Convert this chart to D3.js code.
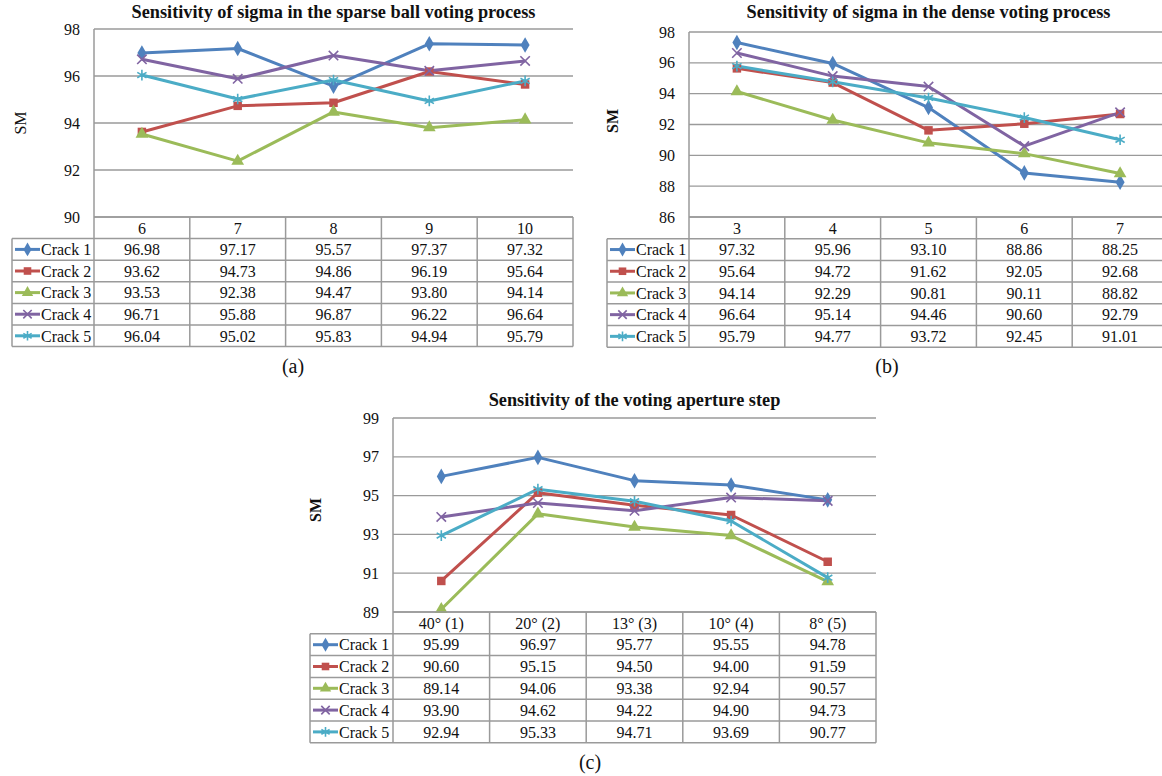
<!DOCTYPE html>
<html><head><meta charset="utf-8">
<script src="https://cdn.jsdelivr.net/npm/d3@7"></script>
<style>
html,body{margin:0;padding:0;background:#fff;}
svg{display:block;}
</style></head>
<body><svg id="chart" width="1162" height="776"></svg>
<script>
// ---------- data ----------
const seriesNames = ["Crack 1", "Crack 2", "Crack 3", "Crack 4", "Crack 5"];
const seriesColors = ["#4F81BD", "#C0504D", "#9BBB59", "#8064A2", "#4BACC6"];

const sparseCats = ["6", "7", "8", "9", "10"];
const sparseValues = [
  [96.98, 97.17, 95.57, 97.37, 97.32],
  [93.62, 94.73, 94.86, 96.19, 95.64],
  [93.53, 92.38, 94.47, 93.80, 94.14],
  [96.71, 95.88, 96.87, 96.22, 96.64],
  [96.04, 95.02, 95.83, 94.94, 95.79]
];
const sparseTicks = [90, 92, 94, 96, 98];

const denseCats = ["3", "4", "5", "6", "7"];
const denseValues = [
  [97.32, 95.96, 93.10, 88.86, 88.25],
  [95.64, 94.72, 91.62, 92.05, 92.68],
  [94.14, 92.29, 90.81, 90.11, 88.82],
  [96.64, 95.14, 94.46, 90.60, 92.79],
  [95.79, 94.77, 93.72, 92.45, 91.01]
];
const denseTicks = [86, 88, 90, 92, 94, 96, 98];

const apertureCats = ["40° (1)", "20° (2)", "13° (3)", "10° (4)", "8° (5)"];
const apertureValues = [
  [95.99, 96.97, 95.77, 95.55, 94.78],
  [90.60, 95.15, 94.50, 94.00, 91.59],
  [89.14, 94.06, 93.38, 92.94, 90.57],
  [93.90, 94.62, 94.22, 94.90, 94.73],
  [92.94, 95.33, 94.71, 93.69, 90.77]
];
const apertureTicks = [89, 91, 93, 95, 97, 99];

// ---------- drawing ----------
const FONT = "'Liberation Serif', 'Times New Roman', Tinos, serif";
const svg = d3.select("#chart");
const gridColor = "#9a9a9a";
const symbolTypes = [d3.symbolDiamond, d3.symbolSquare, d3.symbolTriangle, d3.symbolTimes, d3.symbolAsterisk];
const symbolSizes = [70, 72, 70, 60, 80];
const symbolFilled = [true, true, true, false, false];

function txt(g) {
  return g.append("text").attr("font-family", FONT).attr("fill", "#111");
}

function marker(g, i, x, y, scale) {
  const sym = d3.symbol().type(symbolTypes[i]).size(symbolSizes[i] * scale);
  const p = g.append("path").attr("d", sym()).attr("transform", `translate(${x},${y})`);
  if (symbolFilled[i]) p.attr("fill", seriesColors[i]).attr("stroke", "none");
  else p.attr("fill", "none").attr("stroke", seriesColors[i]).attr("stroke-width", 1.6);
}

function drawPanel(cfg) {
  const g = svg.append("g");
  const right = cfg.left + cfg.colW * cfg.cats.length;
  const x = d3.scaleBand().domain(cfg.cats).range([cfg.left, right]).padding(0);
  const y = d3.scaleLinear().domain([cfg.ticks[0], cfg.ticks[cfg.ticks.length - 1]]).range([cfg.bottom, cfg.top]);
  const cx = c => x(c) + x.bandwidth() / 2;

  g.selectAll(".grid").data(cfg.ticks).join("line")
    .attr("x1", cfg.left).attr("x2", right)
    .attr("y1", d => y(d)).attr("y2", d => y(d))
    .attr("stroke", gridColor).attr("stroke-width", 1.3);
  g.append("line").attr("x1", cfg.left).attr("x2", cfg.left)
    .attr("y1", cfg.top).attr("y2", cfg.bottom)
    .attr("stroke", gridColor).attr("stroke-width", 1.5);
  cfg.ticks.forEach(d => {
    txt(g).attr("x", cfg.left - 14).attr("y", y(d)).attr("dy", "0.35em")
      .attr("text-anchor", "end").attr("font-size", 16).text(d);
  });
  txt(g).attr("x", (cfg.left + right) / 2).attr("y", cfg.titleY)
    .attr("text-anchor", "middle").attr("font-size", 18.3).attr("font-weight", "bold").text(cfg.title);
  txt(g).attr("transform", `translate(${cfg.smX},${cfg.smY}) rotate(-90)`)
    .attr("text-anchor", "middle").attr("dy", "0.35em").attr("font-size", 16)
    .attr("font-weight", cfg.smBold ? "bold" : "normal").text("SM");

  const line = d3.line().x((d, j) => cx(cfg.cats[j])).y(d => y(d));
  cfg.values.forEach((vals, i) => {
    g.append("path").attr("d", line(vals)).attr("fill", "none")
      .attr("stroke", seriesColors[i]).attr("stroke-width", 3).attr("stroke-linejoin", "round");
  });
  cfg.values.forEach((vals, i) => {
    vals.forEach((v, j) => marker(g, i, cx(cfg.cats[j]), y(v), 1));
  });

  const rowH = cfg.rowH;
  const t = g.append("g");
  const nRows = seriesNames.length;
  const tableBottom = cfg.bottom + rowH * (nRows + 1);
  cfg.cats.forEach(c => {
    txt(t).attr("x", cx(c)).attr("y", cfg.bottom + rowH / 2).attr("dy", "0.36em")
      .attr("text-anchor", "middle").attr("font-size", 16).text(c);
  });
  seriesNames.forEach((s, i) => {
    const ry = cfg.bottom + rowH * (i + 1);
    const my = ry + rowH / 2;
    t.append("line").attr("x1", cfg.tableLeft + 3).attr("x2", cfg.tableLeft + 28)
      .attr("y1", my).attr("y2", my).attr("stroke", seriesColors[i]).attr("stroke-width", 3);
    marker(t, i, cfg.tableLeft + 15.5, my, 0.8);
    txt(t).attr("x", cfg.tableLeft + 29).attr("y", my).attr("dy", "0.36em")
      .attr("font-size", 16).text(s);
    cfg.values[i].forEach((v, j) => {
      txt(t).attr("x", cx(cfg.cats[j])).attr("y", my).attr("dy", "0.36em")
        .attr("text-anchor", "middle").attr("font-size", 16).text(v.toFixed(2));
    });
  });
  const hl = [];
  hl.push([cfg.left, right, cfg.bottom]);
  for (let r = 1; r <= nRows + 1; r++) hl.push([cfg.tableLeft, right, cfg.bottom + rowH * r]);
  hl.forEach(h => t.append("line").attr("x1", h[0]).attr("x2", h[1]).attr("y1", h[2]).attr("y2", h[2])
    .attr("stroke", gridColor).attr("stroke-width", 1.5));
  const vl = [[cfg.tableLeft, cfg.bottom + rowH]];
  for (let k = 0; k <= cfg.cats.length; k++) vl.push([cfg.left + cfg.colW * k, cfg.bottom]);
  vl.forEach(v => t.append("line").attr("x1", v[0]).attr("x2", v[0]).attr("y1", v[1]).attr("y2", tableBottom)
    .attr("stroke", gridColor).attr("stroke-width", 1.5));

  txt(g).attr("x", cfg.capX).attr("y", cfg.capY).attr("dy", "0.35em")
    .attr("text-anchor", "middle").attr("font-size", 20).text(cfg.caption);
}

drawPanel({
  title: "Sensitivity of sigma in the sparse ball voting process",
  cats: sparseCats, values: sparseValues, ticks: sparseTicks,
  left: 94, top: 29, bottom: 217, colW: 95.8, tableLeft: 12, rowH: 21.6,
  titleY: 18, smX: 20, smY: 123, smBold: false, caption: "(a)", capX: 293, capY: 366
});
drawPanel({
  title: "Sensitivity of sigma in the dense voting process",
  cats: denseCats, values: denseValues, ticks: denseTicks,
  left: 689, top: 32, bottom: 217, colW: 95.8, tableLeft: 607, rowH: 21.7,
  titleY: 18, smX: 612, smY: 121, smBold: true, caption: "(b)", capX: 887, capY: 366
});
drawPanel({
  title: "Sensitivity of the voting aperture step",
  cats: apertureCats, values: apertureValues, ticks: apertureTicks,
  left: 393, top: 418, bottom: 612, colW: 96.6, tableLeft: 310, rowH: 21.8,
  titleY: 406, smX: 315, smY: 510, smBold: true, caption: "(c)", capX: 590, capY: 762
});
</script></body></html>
